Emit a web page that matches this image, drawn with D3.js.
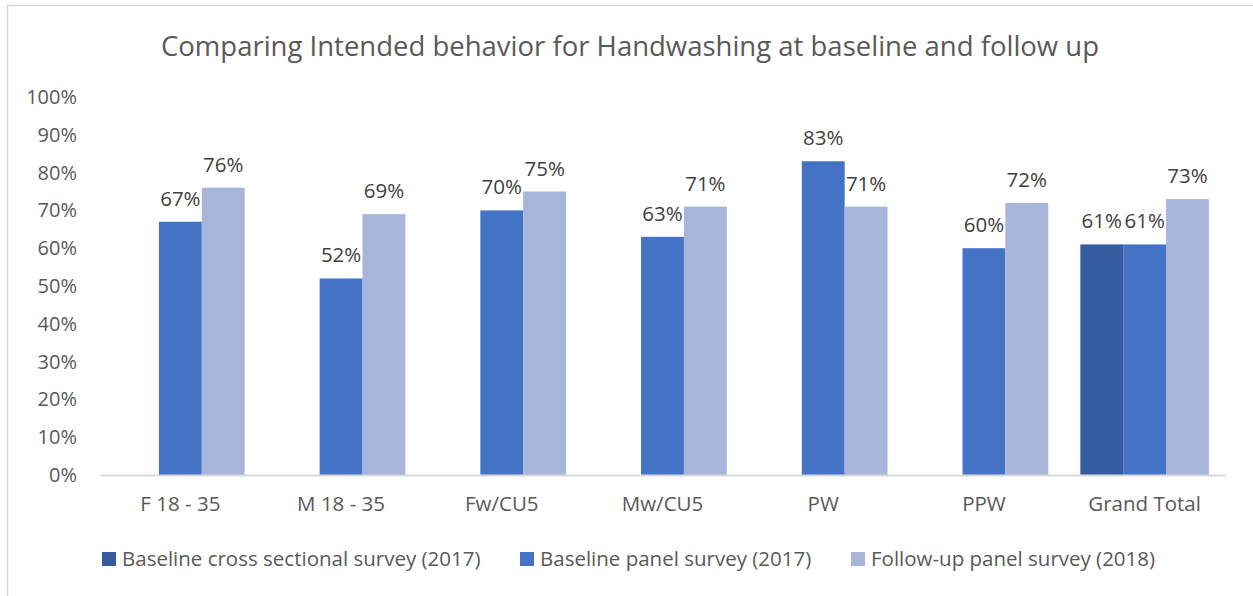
<!DOCTYPE html>
<html><head><meta charset="utf-8">
<script src="https://cdn.jsdelivr.net/npm/d3@7"></script>
<style>body{margin:0;background:#fff;} svg{display:block;font-family:"Open Sans",sans-serif;}</style>
</head><body>
<svg id="c" width="1253" height="596"></svg>
<script>
const categories = ["F 18 - 35","M 18 - 35","Fw/CU5","Mw/CU5","PW","PPW","Grand Total"];
const seriesNames = ["Baseline cross sectional survey (2017)","Baseline panel survey (2017)","Follow-up panel survey (2018)"];
const crossSectional = [null,null,null,null,null,null,61];
const baselinePanel = [67,52,70,63,83,60,61];
const followUpPanel = [76,69,75,71,71,72,73];
const yTicks = [0,10,20,30,40,50,60,70,80,90,100];
const colors = ["#355C9F","#4472C4","#A7B5DA"];

const svg = d3.select("#c");
svg.append("rect").attr("x",7.5).attr("y",5.5).attr("width",1260).attr("height",600)
  .attr("fill","none").attr("stroke","#D9D9D9").attr("stroke-width",1.5);

svg.append("text").attr("x",630).attr("y",56).attr("text-anchor","middle")
  .attr("font-size",27.5).attr("fill","#595959")
  .text("Comparing Intended behavior for Handwashing at baseline and follow up");

const x = d3.scaleBand().domain(categories).range([100,1225]).paddingInner(0.2).paddingOuter(0.1);
const y = d3.scaleLinear().domain([0,100]).range([475,97]);
const xs = d3.scaleBand().domain(d3.range(3)).range([0,x.bandwidth()]);

const series = [crossSectional, baselinePanel, followUpPanel];
series.forEach((vals,si)=>{
  const g = svg.append("g");
  const data = categories.map((c,i)=>({c,v:vals[i]})).filter(d=>d.v!=null);
  g.selectAll("rect").data(data).join("rect")
    .attr("x",d=>x(d.c)+xs(si)).attr("width",xs.bandwidth())
    .attr("y",d=>y(d.v)).attr("height",d=>y(0)-y(d.v)).attr("fill",colors[si]);
  g.selectAll("text").data(data).join("text")
    .attr("x",d=>x(d.c)+xs(si)+xs.bandwidth()/2).attr("y",d=>y(d.v)-16)
    .attr("text-anchor","middle").attr("font-size",20.5).attr("fill","#404040")
    .text(d=>d.v+"%");
});

const ya = svg.append("g").attr("transform","translate(100,0)")
  .call(d3.axisLeft(y).tickValues(yTicks).tickFormat(d=>d+"%").tickSize(0).tickPadding(23));
ya.select(".domain").remove();
ya.selectAll("text").attr("font-size",20).attr("fill","#595959").attr("font-family","Open Sans");

const xa = svg.append("g").attr("transform","translate(0,475)")
  .call(d3.axisBottom(x).tickSize(0).tickPadding(21));
xa.select(".domain").attr("stroke","#D9D9D9").attr("stroke-width",2);
xa.selectAll("text").attr("font-size",20.5).attr("fill","#595959").attr("font-family","Open Sans");

const legX = [102,520,851];
const lg = svg.append("g");
seriesNames.forEach((n,i)=>{
  lg.append("rect").attr("x",legX[i]).attr("y",552).attr("width",14).attr("height",14).attr("fill",colors[i]);
  lg.append("text").attr("x",legX[i]+20).attr("y",566).attr("font-size",20.5).attr("fill","#595959").text(n);
});
</script>
</body></html>
